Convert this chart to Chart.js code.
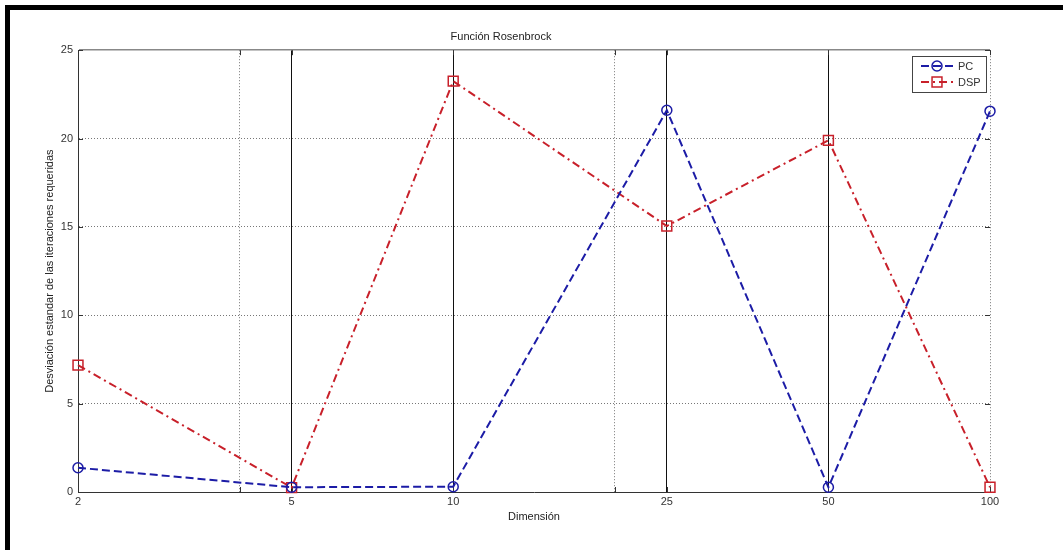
<!DOCTYPE html>
<html>
<head>
<meta charset="utf-8">
<script src="https://cdn.jsdelivr.net/npm/chart.js@4"></script>
<style>
  body { margin: 0; background: #fff; }
  canvas { display: block; }
</style>
</head>
<body>
<canvas id="chart" width="1063" height="550"></canvas>
<script>
// Data
var dimensions = [2, 5, 10, 25, 50, 100];
var extraGrid = [4, 20];               // dotted grid lines without labels
var solidLines = [5, 10, 25, 50];      // solid vertical lines
var pcValues = [1.37, 0.27, 0.30, 21.6, 0.27, 21.55];
var dspValues = [7.18, 0.25, 23.25, 15.05, 19.9, 0.27];
var yTicks = [0, 5, 10, 15, 20, 25];

var FONT = '"Liberation Sans", Arial, sans-serif';
var blue = '#1c1ca6';
var red = '#c8202a';

function toPoints(vals) {
    return dimensions.map(function (d, i) { return { x: d, y: vals[i] }; });
}

// black frame on top and left like the original screenshot
var framePlugin = {
    id: 'frame',
    afterDraw: function (chart) {
        var c = chart.ctx;
        c.save();
        c.fillStyle = '#000';
        c.fillRect(5, 5, chart.width - 5, 5);
        c.fillRect(5, 5, 5, chart.height - 5);
        c.restore();
    }
};

// MATLAB style inward tick marks
var tickPlugin = {
    id: 'inTicks',
    beforeDatasetsDraw: function (chart) {
        var a = chart.chartArea, c = chart.ctx;
        var xs = chart.scales.x, ys = chart.scales.y;
        c.save();
        c.strokeStyle = '#333';
        c.lineWidth = 1;
        c.beginPath();
        yTicks.forEach(function (v) {
            var py = Math.round(ys.getPixelForValue(v)) + 0.5;
            c.moveTo(a.left, py); c.lineTo(a.left + 5, py);
            c.moveTo(a.right - 5, py); c.lineTo(a.right, py);
        });
        dimensions.concat(extraGrid).forEach(function (v) {
            var px = Math.round(xs.getPixelForValue(v)) + 0.5;
            c.moveTo(px, a.bottom); c.lineTo(px, a.bottom - 5);
            c.moveTo(px, a.top); c.lineTo(px, a.top + 5);
        });
        c.stroke();
        c.restore();
    }
};

// legend box with line + marker samples
var legendPlugin = {
    id: 'matLegend',
    afterDraw: function (chart) {
        var c = chart.ctx;
        var bx = 912, by = 56, bw = 74, bh = 36;
        c.save();
        c.fillStyle = '#fff';
        c.fillRect(bx, by, bw, bh);
        c.strokeStyle = '#444';
        c.lineWidth = 1;
        c.strokeRect(bx + 0.5, by + 0.5, bw, bh);
        chart.data.datasets.forEach(function (ds, i) {
            var y = by + 10 + i * 16;
            c.strokeStyle = ds.borderColor;
            c.lineWidth = 2;
            c.setLineDash(ds.borderDash);
            c.beginPath();
            c.moveTo(bx + 9, y);
            c.lineTo(bx + 43, y);
            c.stroke();
            c.setLineDash([]);
            c.lineWidth = 1.5;
            c.fillStyle = 'rgba(0,0,0,0)';
            Chart.helpers.drawPoint(c, {
                pointStyle: ds.pointStyle,
                radius: ds.pointRadius,
                borderWidth: 1.5,
                rotation: 0
            }, bx + 25, y);
            c.fillStyle = '#333';
            c.font = '11px ' + FONT;
            c.textBaseline = 'middle';
            c.fillText(ds.label, bx + 46, y + 1);
        });
        c.restore();
    }
};

function isSolid(v) {
    return solidLines.indexOf(v) >= 0;
}

var ctx = document.getElementById('chart').getContext('2d');
var chart = new Chart(ctx, {
    type: 'line',
    data: {
        datasets: [{
            label: 'PC',
            data: toPoints(pcValues),
            borderColor: blue,
            borderWidth: 2,
            borderDash: [8, 4],
            pointStyle: 'circle',
            pointRadius: 5,
            pointBorderWidth: 1.5,
            pointBackgroundColor: 'rgba(0,0,0,0)',
            pointBorderColor: blue,
            fill: false,
            tension: 0
        }, {
            label: 'DSP',
            data: toPoints(dspValues),
            borderColor: red,
            borderWidth: 2,
            borderDash: [8, 4, 2, 4],
            pointStyle: 'rect',
            pointRadius: 7,
            pointBorderWidth: 1.5,
            pointBackgroundColor: 'rgba(0,0,0,0)',
            pointBorderColor: red,
            fill: false,
            tension: 0
        }]
    },
    options: {
        responsive: false,
        animation: false,
        clip: false,
        layout: { padding: { left: 12, right: 73, top: 10, bottom: 24 } },
        plugins: {
            legend: { display: false },
            tooltip: { enabled: false },
            title: {
                display: true,
                text: 'Función Rosenbrock',
                color: '#222',
                font: { family: FONT, size: 11, weight: 'normal' },
                padding: { top: 20, bottom: 7 }
            }
        },
        scales: {
            x: {
                type: 'logarithmic',
                min: 2,
                max: 100,
                afterBuildTicks: function (scale) {
                    scale.ticks = dimensions.concat(extraGrid)
                        .sort(function (a, b) { return a - b; })
                        .map(function (v) { return { value: v }; });
                },
                afterFit: function (scale) { scale.height = 34; },
                ticks: {
                    autoSkip: false,
                    maxRotation: 0,
                    padding: 3,
                    color: '#333',
                    font: { family: FONT, size: 11 },
                    callback: function (value) {
                        return dimensions.indexOf(value) >= 0 ? String(value) : '';
                    }
                },
                grid: {
                    drawTicks: false,
                    color: function (c) {
                        if (!c.tick) return '#777';
                        var v = c.tick.value;
                        if (v === 2) return 'rgba(0,0,0,0)';
                        return isSolid(v) ? '#111' : '#777';
                    },
                    lineWidth: 1
                },
                border: {
                    display: true,
                    color: '#333',
                    width: 1,
                    dash: function (c) {
                        if (!c.tick || isSolid(c.tick.value)) return [];
                        return [1, 2];
                    }
                },
                title: {
                    display: true,
                    text: 'Dimensión',
                    color: '#222',
                    font: { family: FONT, size: 11 },
                    padding: { top: 0, bottom: 2 }
                }
            },
            y: {
                min: 0,
                max: 25,
                afterBuildTicks: function (scale) {
                    scale.ticks = yTicks.map(function (v) { return { value: v }; });
                },
                afterFit: function (scale) { scale.width = 66; },
                ticks: {
                    padding: 5,
                    color: '#333',
                    font: { family: FONT, size: 11 }
                },
                grid: {
                    drawTicks: false,
                    color: function (c) {
                        if (!c.tick) return '#777';
                        var v = c.tick.value;
                        if (v === 0) return 'rgba(0,0,0,0)';
                        return v === 25 ? '#888' : '#777';
                    },
                    lineWidth: function (c) {
                        return c.tick && c.tick.value === 25 ? 1.5 : 1;
                    }
                },
                border: {
                    display: true,
                    color: '#333',
                    width: 1,
                    dash: function (c) {
                        if (!c.tick || c.tick.value === 25) return [];
                        return [1, 2];
                    }
                },
                title: {
                    display: true,
                    text: 'Desviación estandar de las iteraciones requeridas',
                    color: '#222',
                    font: { family: FONT, size: 11 },
                    padding: { top: 31, bottom: 0 }
                }
            }
        }
    },
    plugins: [tickPlugin, legendPlugin, framePlugin]
});
</script>
</body>
</html>
